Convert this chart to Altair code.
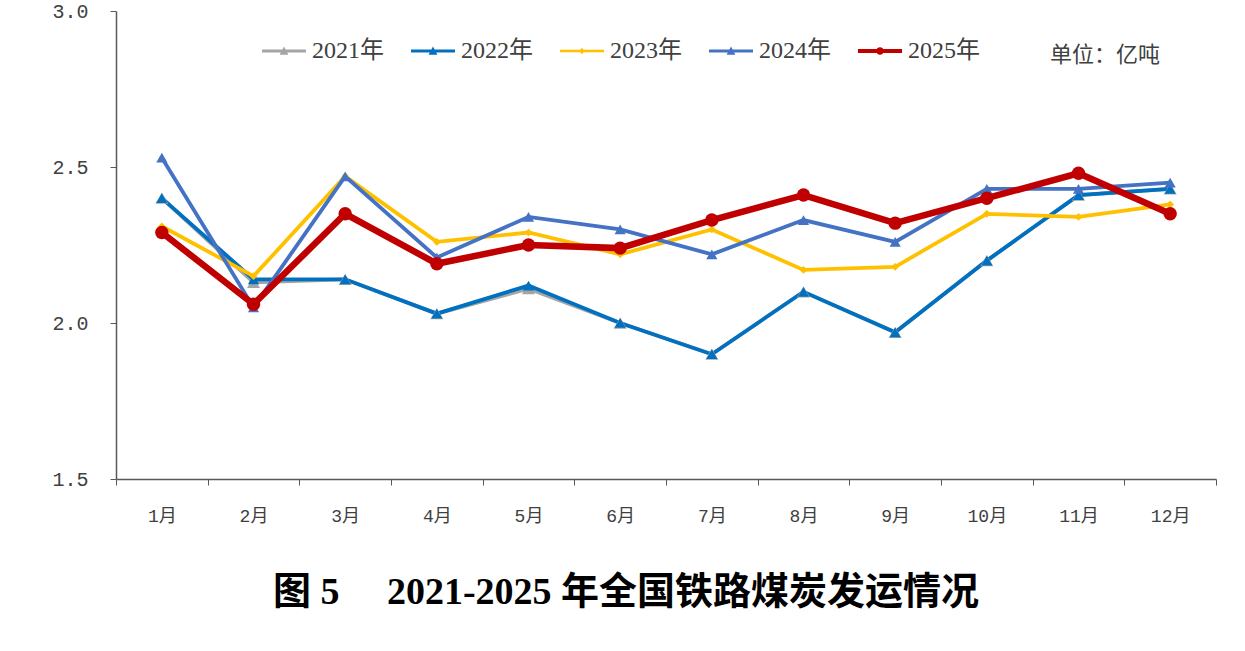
import json
import altair as alt
import pandas as pd

months = ["1月", "2月", "3月", "4月", "5月", "6月", "7月", "8月", "9月", "10月", "11月", "12月"]
years = ["2021年", "2022年", "2023年", "2024年", "2025年"]

v2021 = [2.40, 2.13, 2.14, 2.03, 2.11, 2.00, 1.90, 2.10, 1.97, 2.20, 2.41, 2.43]
v2022 = [2.40, 2.14, 2.14, 2.03, 2.12, 2.00, 1.90, 2.10, 1.97, 2.20, 2.41, 2.43]
v2023 = [2.31, 2.15, 2.47, 2.26, 2.29, 2.22, 2.30, 2.17, 2.18, 2.35, 2.34, 2.38]
v2024 = [2.53, 2.05, 2.47, 2.21, 2.34, 2.30, 2.22, 2.33, 2.26, 2.43, 2.43, 2.45]
v2025 = [2.29, 2.06, 2.35, 2.19, 2.25, 2.24, 2.33, 2.41, 2.32, 2.40, 2.48, 2.35]

colors = ["#A5A5A5", "#0070C0", "#FFC000", "#4472C4", "#C00000"]
marker_shapes = ["triangle-up", "triangle-up", "diamond", "triangle-up", "circle"]
marker_sizes = [170, 125, 60, 125, 180]

tri = "M-1,-0.07 L1,-0.07 L1,0.07 L-1,0.07 Z M-0.2,0.17 L0,-0.2 L0.2,0.17 Z"
dia = "M-1,-0.06 L1,-0.06 L1,0.06 L-1,0.06 Z M-0.12,0 L0,-0.15 L0.12,0 L0,0.15 Z"
cir = "M-1,-0.09 L1,-0.09 L1,0.09 L-1,0.09 Z M-0.17,0 A0.17,0.17 0 1,1 0.17,0 A0.17,0.17 0 1,1 -0.17,0 Z"
legend_paths = [tri, tri, dia, tri, cir]

rows = []
for y, vals in zip(years, [v2021, v2022, v2023, v2024, v2025]):
    for m, v in zip(months, vals):
        rows.append({"year": y, "month": m, "value": v})
df = pd.DataFrame(rows)

axis_color = "#595959"
label_font = "Liberation Mono, Noto Sans CJK SC"

x = alt.X(
    "month:N",
    sort=months,
    scale=alt.Scale(type="band", domain=months, paddingInner=0, paddingOuter=0),
    axis=alt.Axis(
        title=None, labelAngle=0, tickBand="extent", tickSize=6, tickColor=axis_color,
        domainColor=axis_color, domainWidth=1.5, labelFont=label_font, labelFontSize=18,
        labelColor="#404040", labelPadding=22, grid=False,
    ),
)
y = alt.Y(
    "value:Q",
    scale=alt.Scale(domain=[1.5, 3.0], nice=False, zero=False),
    axis=alt.Axis(
        title=None, values=[1.5, 2.0, 2.5, 3.0], format=".1f", tickSize=6,
        tickColor=axis_color, domainColor=axis_color, domainWidth=1.5,
        labelFont=label_font, labelFontSize=20, labelColor="#404040",
        labelPadding=22, grid=False,
    ),
)
color = alt.Color("year:N", scale=alt.Scale(domain=years, range=colors), legend=None)

lines = alt.Chart(df).mark_line().encode(
    x=x, y=y, color=color,
    strokeWidth=alt.condition("datum.year == '2025年'", alt.value(6.5), alt.value(3.8)),
)

size_expr = (json.dumps(marker_sizes) + "[indexof(" + json.dumps(years, ensure_ascii=False)
             + ", datum.year)]")
points = alt.Chart(df).mark_point(filled=True, opacity=1).transform_calculate(
    msize=size_expr
).encode(
    x=x, y=y, color=color,
    shape=alt.Shape("year:N", scale=alt.Scale(domain=years, range=marker_shapes), legend=None),
    size=alt.Size("msize:Q", scale=None, legend=None),
)

legend_layer = alt.Chart(df).mark_point(filled=True, opacity=1).encode(
    x=x, y=y,
    fill=alt.Fill("year:N", scale=alt.Scale(domain=years, range=colors),
                  legend=alt.Legend(title=None)),
    shape=alt.Shape("year:N", scale=alt.Scale(domain=years, range=legend_paths),
                    legend=alt.Legend(title=None)),
).transform_filter("false")

unit_df = pd.DataFrame({"t": ["单位：亿吨"]})
unit_text = alt.Chart(unit_df).mark_text(
    align="left", baseline="middle", font="Noto Sans CJK SC", fontSize=22, color="#404040"
).encode(text="t:N", x=alt.value(934), y=alt.value(44))

chart = alt.layer(lines, points, legend_layer, unit_text).resolve_scale(
    shape="independent", fill="independent"
).properties(
    width=1100, height=468,
    title=alt.TitleParams(
        text="图 5\u3000 2021-2025 年全国铁路煤炭发运情况", orient="bottom", anchor="middle",
        fontSize=38, fontWeight="bold", font="Liberation Serif, Noto Sans CJK SC",
        color="#000000", offset=49, dx=-40,
    ),
    autosize=alt.AutoSizeParams(type="none"),
    padding={"left": 116, "top": 11, "right": 29, "bottom": 172},
).configure_view(stroke=None).configure_legend(
    orient="none", legendX=146, legendY=18, direction="horizontal", columns=5,
    symbolSize=1936, labelFont="Liberation Serif, Noto Sans CJK SC", labelFontSize=24,
    labelColor="#404040", columnPadding=27, symbolStrokeWidth=0, labelOffset=6,
    symbolOpacity=1,
)

chart.save("out.html", embed_options={"renderer": "svg", "actions": False})
